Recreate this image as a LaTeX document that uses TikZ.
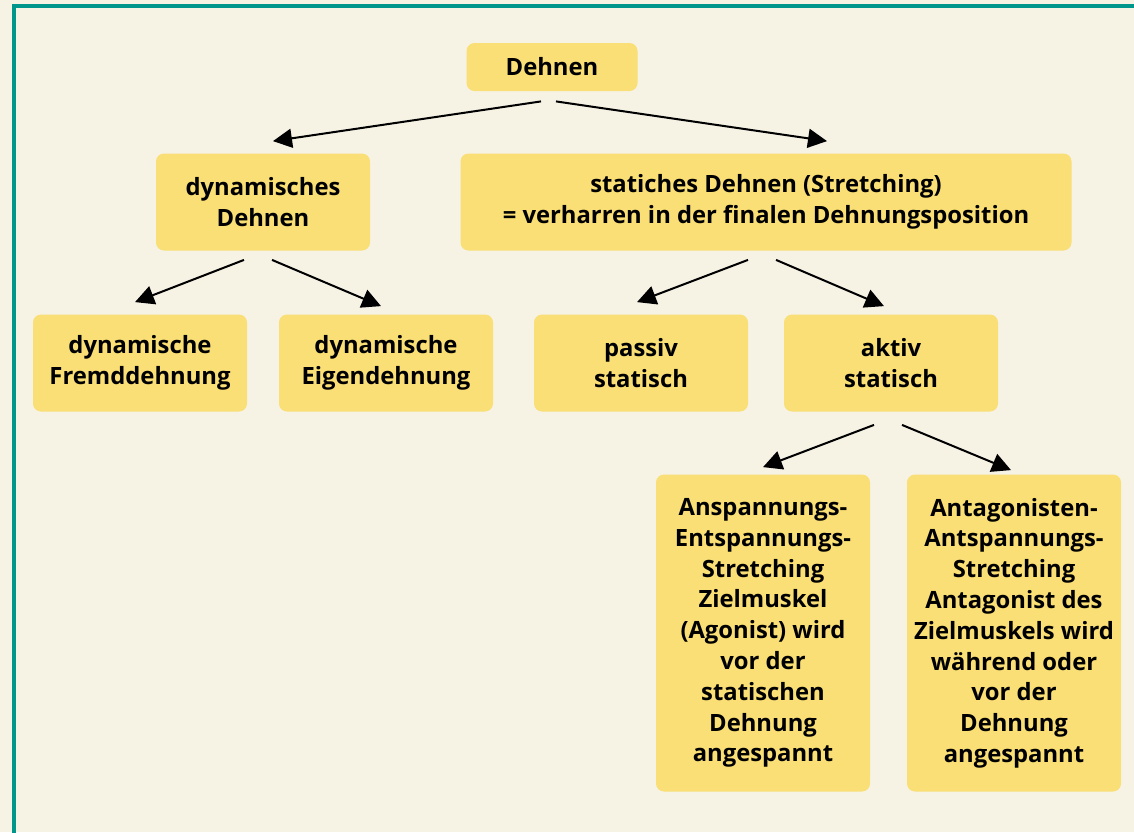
\documentclass[tikz,border=0pt]{standalone}
\usepackage{fontspec}
\setsansfont{Open Sans}
\usepackage{tikz}
\usetikzlibrary{arrows.meta, calc}
\definecolor{paper}{RGB}{246,243,229}
\definecolor{boxfill}{RGB}{249,223,117}
\definecolor{frameline}{RGB}{0,150,140}
\tikzset{
  card/.style    ={fill=boxfill, rounded corners=4pt, inner sep=2pt,
                   align=center, text=black,
                   font=\sffamily\bfseries\fontsize{11.9}{15.4}\selectfont},
  Lsmall/.style  ={card, minimum width=107pt, minimum height=48.5pt},
  Ltop/.style    ={card, minimum width=85.5pt, minimum height=24pt},
  Lwide/.style   ={card, minimum width=305.5pt, minimum height=48.5pt},
  Ltall/.style   ={card, minimum width=107pt, minimum height=158.5pt},
  branch/.style  ={-{Triangle[length=9.5pt, width=9.5pt]}, line width=1pt, black},
}

\begin{document}
\begin{tikzpicture}[x=0.5pt, y=-0.5pt]

% paper and frame
\useasboundingbox (0,0) rectangle (1134,832);
\fill[paper] (0,0) rectangle (1134,832);
\begin{scope}
  \clip (0,0) rectangle (1134,832);
  \draw[frameline, line width=1.7pt] (14,6) rectangle (1160,860);
\end{scope}

% boxes
\node[Ltop]   (top)    at (552,67)  {Dehnen};
\node[Lsmall] (dyn)    at (263,202) {dynamisches\\Dehnen};
\node[Lwide]  (stat)   at (766,202) {statiches Dehnen (Stretching)\\= verharren in der finalen Dehnungsposition};
\node[Lsmall] (fremd)  at (140,363) {dynamische\\Fremddehnung};
\node[Lsmall] (eigen)  at (386,363) {dynamische\\Eigendehnung};
\node[Lsmall] (passiv) at (641,363) {passiv\\statisch};
\node[Lsmall] (aktiv)  at (891,363) {aktiv\\statisch};
\node[Ltall]  (ansp)   at (763,633) {Anspannungs-\\Entspannungs-\\Stretching\\Zielmuskel\\(Agonist) wird\\vor der\\statischen\\Dehnung\\angespannt};
\node[Ltall]  (antag)  at (1014,633) {Antagonisten-\\Antspannungs-\\Stretching\\Antagonist des\\Zielmuskels wird\\während oder\\vor der\\Dehnung\\angespannt};

% arrows
\draw[branch] ($(top.south)+(-11,10)$)   -- ($(dyn.north)+(10,-12)$);
\draw[branch] ($(top.south)+(4,10)$)     -- ($(stat.north)+(61,-12)$);
\draw[branch] ($(dyn.south)+(-19,9)$)    -- ($(fremd.north)+(-5,-12)$);
\draw[branch] ($(dyn.south)+(9,9)$)      -- ($(eigen.north)+(-5,-8)$);
\draw[branch] ($(stat.south)+(-18,9)$)   -- ($(passiv.north)+(-4,-12)$);
\draw[branch] ($(stat.south)+(10,9)$)    -- ($(aktiv.north)+(-7,-8)$);
\draw[branch] ($(aktiv.south)+(-17,13)$) -- ($(ansp.north)+(0,-7)$);
\draw[branch] ($(aktiv.south)+(11,13)$)  -- ($(antag.north)+(-3,-4)$);

\end{tikzpicture}
\end{document}
